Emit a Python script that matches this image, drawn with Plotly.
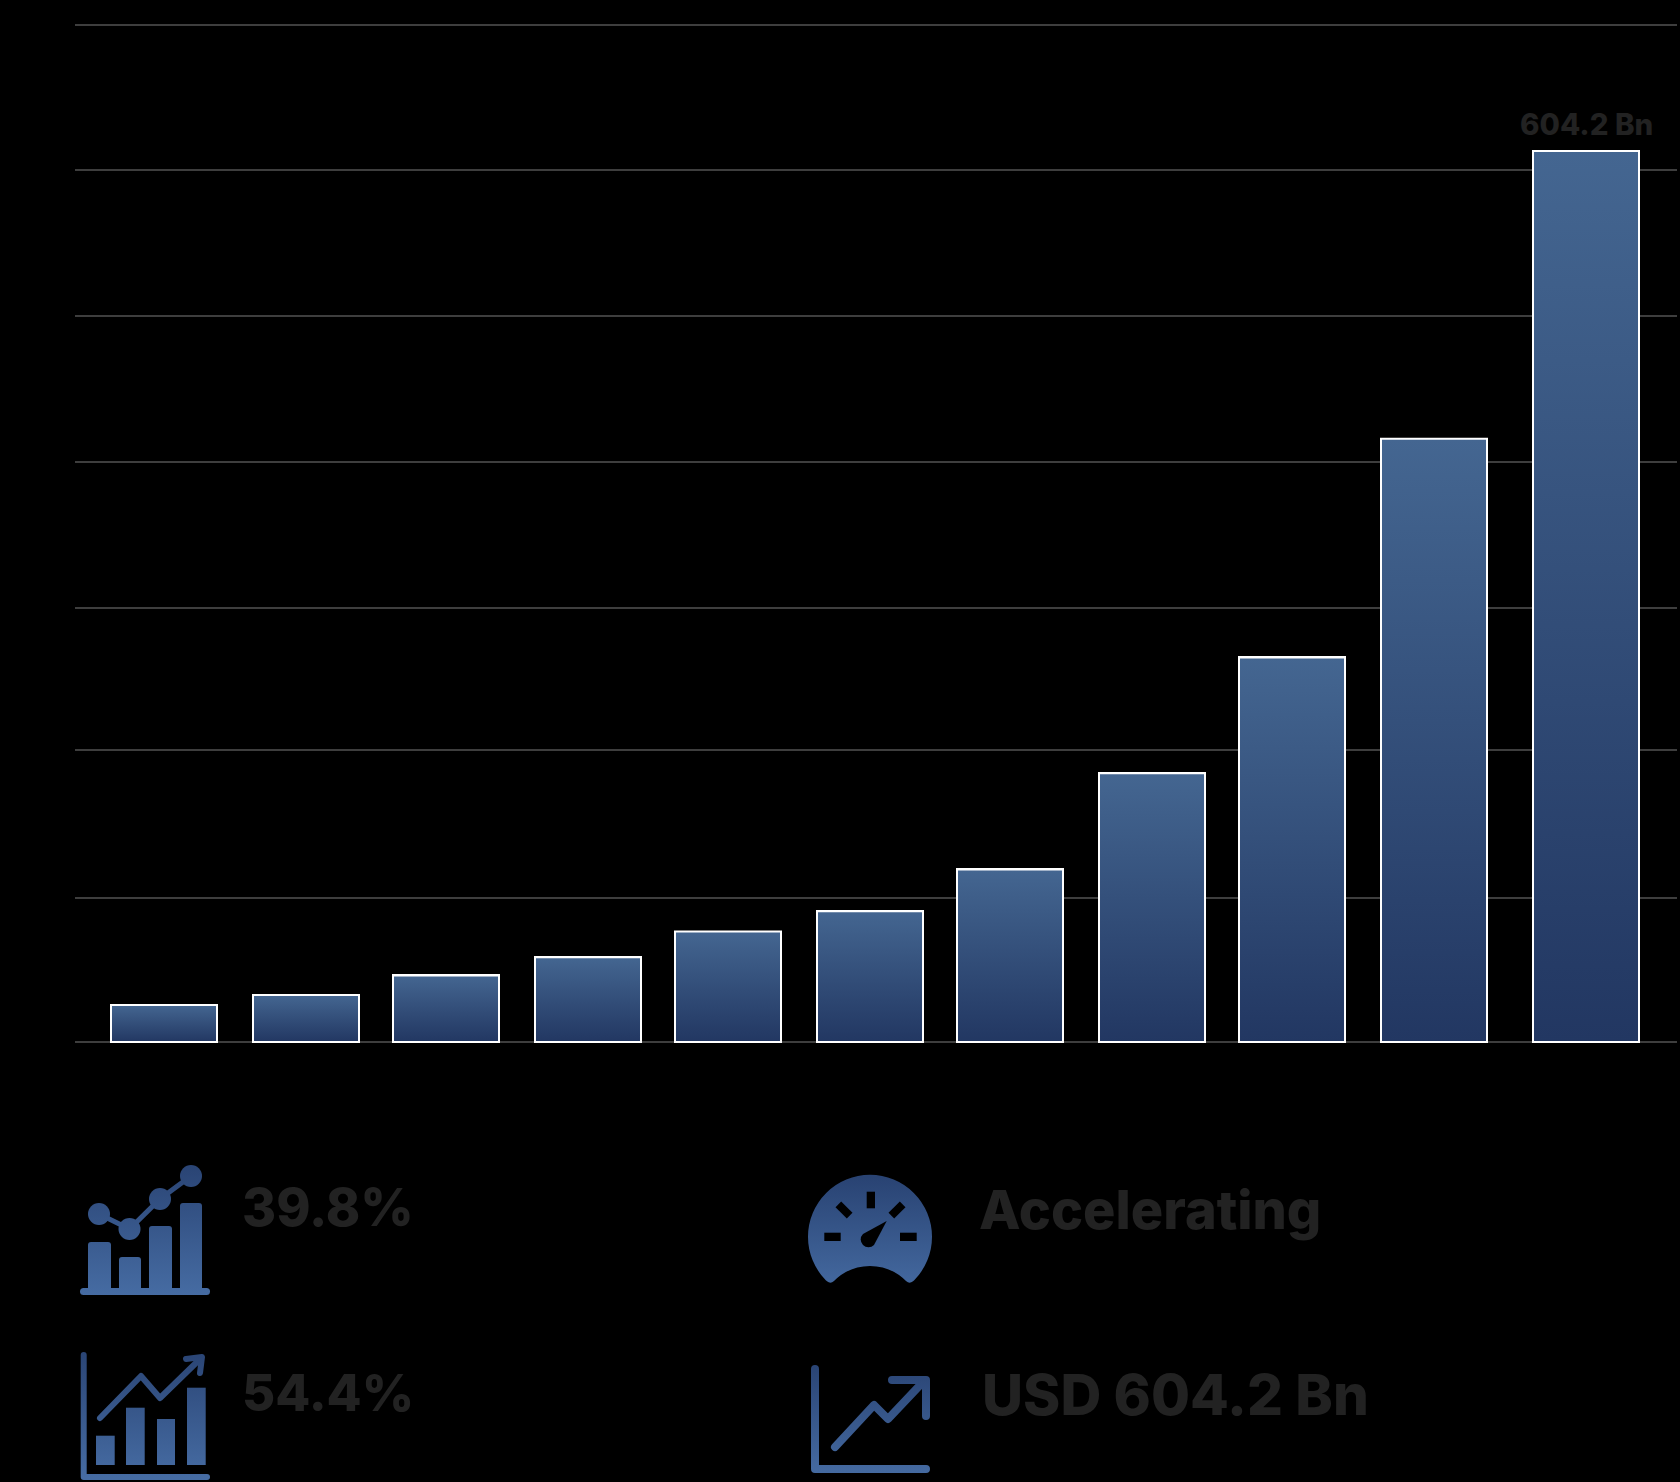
import base64
import plotly.graph_objects as go

# bar values (USD Bn)
bar_index = list(range(11))
values = [25.1, 31.8, 45.1, 57.4, 74.9, 88.7, 117, 182.3, 260.8, 409, 604.2]
value_label = "604.2 Bn"
grid_values = [0, 97.6, 198, 294.3, 393.3, 492.3, 591.3, 689.6]

stat_texts = ["39.8%", "Accelerating", "54.4%", "USD 604.2 Bn"]

# layout in page pixels
W, H = 1680, 1482
PLOT_L, PLOT_R, PLOT_T, PLOT_B = 75, 1677, 15, 1052
ZERO_PX = 1042
PX_PER_UNIT = 1.4747
STEP = 141
FIRST_CENTER = 164
BAR_W = 106 / STEP
# small sideways nudges, in px, the bars are not perfectly even in the source
BAR_NUDGE = [0, 1, 0, 1, 0, 1, 0, 1, 0, 1, 12]
FONT = "Inter"
TEXT_COLOR = "#222222"


def paper_x(px):
    return (px - PLOT_L) / (PLOT_R - PLOT_L)


def paper_y(py):
    return (PLOT_B - py) / (PLOT_B - PLOT_T)


def svg_uri(w, h, body):
    svg = (
        f'<svg xmlns="http://www.w3.org/2000/svg" width="{w}" height="{h}" viewBox="0 0 {w} {h}">'
        f'<defs><linearGradient id="g" gradientUnits="userSpaceOnUse" x1="0" y1="12" x2="0" y2="{h - 4}">'
        '<stop offset="0" stop-color="#294373"/><stop offset="1" stop-color="#466ca3"/>'
        f'</linearGradient></defs>{body}</svg>'
    )
    return "data:image/svg+xml;base64," + base64.b64encode(svg.encode()).decode()


icon_bars_dots = svg_uri(150, 150, """
<g fill="url(#g)">
<rect x="18" y="92" width="23" height="50" rx="3"/>
<rect x="49" y="107" width="22" height="35" rx="3"/>
<rect x="79" y="76" width="23" height="66" rx="3"/>
<rect x="110" y="53" width="22" height="89" rx="3"/>
<rect x="10" y="138" width="130" height="7" rx="3.5"/>
<circle cx="29" cy="64" r="11"/><circle cx="59.5" cy="79" r="11"/>
<circle cx="90" cy="49" r="11"/><circle cx="121" cy="26" r="11"/>
</g>
<polyline points="29,64 59.5,79 90,49 121,26" fill="none" stroke="url(#g)" stroke-width="5"/>
""")

icon_bars_arrow = svg_uri(150, 147, """
<path d="M13.7 20 V142 H137" fill="none" stroke="url(#g)" stroke-width="6" stroke-linecap="round" stroke-linejoin="round"/>
<g fill="url(#g)">
<rect x="26" y="100.7" width="18.7" height="29.3"/>
<rect x="56" y="72.7" width="18.7" height="57.3"/>
<rect x="87" y="84" width="18" height="46"/>
<rect x="117" y="52.7" width="18.7" height="77.3"/>
</g>
<polyline points="30,83 71,41 90,63 128,26" fill="none" stroke="url(#g)" stroke-width="6" stroke-linecap="round" stroke-linejoin="round"/>
<path d="M116 24 L132 22 L130 38" fill="none" stroke="url(#g)" stroke-width="6" stroke-linecap="round" stroke-linejoin="round"/>
""")

icon_gauge = svg_uri(150, 135, """
<path fill="url(#g)" d="M31 115.5 A62 62 0 1 1 119 115.5 Q115 119.5 111 116 Q96 101 75 101 Q54 101 39 116 Q35 119.5 31 115.5 Z"/>
<g fill="#000">
<rect x="71.7" y="26.7" width="8.3" height="16.6"/>
<rect x="29.3" y="67.7" width="16.4" height="8.3"/>
<rect x="105" y="67.7" width="16.7" height="8.3"/>
<rect x="41" y="41" width="16" height="8" transform="rotate(45 49 45)"/>
<rect x="94" y="41" width="16" height="8" transform="rotate(-45 102 45)"/>
<path d="M91.7 56 L79 80 A7 7 0 1 1 68 69 Z"/>
</g>
""")

icon_line_arrow = svg_uri(150, 132, """
<g fill="none" stroke="url(#g)" stroke-width="8" stroke-linecap="round" stroke-linejoin="round">
<path d="M20 19 V119 H131"/>
<polyline points="40,97 79,55 93,69 128,32"/>
<polyline points="97,30 131,30 131,66"/>
</g>
""")

icons = [
    (icon_bars_dots, 70, 1150, 150, 150),
    (icon_bars_arrow, 70, 1335, 150, 147),
    (icon_gauge, 795, 1165, 150, 135),
    (icon_line_arrow, 795, 1350, 150, 132),
]

centers = [i + n / STEP for i, n in zip(bar_index, BAR_NUDGE)]
bar_offsets = [c - i - BAR_W / 2 for c, i in zip(centers, bar_index)]

fig = go.Figure()
fig.add_trace(go.Bar(
    x=bar_index, y=values, width=BAR_W, offset=bar_offsets,
    marker=dict(color="#33507d", line=dict(color="white", width=2)),
    hoverinfo="skip", showlegend=False,
))

# bars can't take a gradient, so same rectangles again as filled scatter on top
for c, v in zip(centers, values):
    l, r = c - BAR_W / 2, c + BAR_W / 2
    fig.add_trace(go.Scatter(
        x=[l, l, r, r, l], y=[0, v, v, 0, 0], mode="lines", fill="toself",
        line=dict(color="white", width=2),
        fillgradient=dict(type="vertical", colorscale=[[0, "#223762"], [1, "#446691"]]),
        hoverinfo="skip", showlegend=False,
    ))

fig.add_annotation(
    x=centers[-1], y=values[-1], text=value_label, showarrow=False, yanchor="bottom", yshift=7,
    font=dict(family=FONT, size=29.5, color=TEXT_COLOR, weight=800),
)

stat_pos = [(243, 1207), (980, 1209), (243, 1392), (983, 1394)]
stat_sizes = [52, 54, 51, 56.5]
for txt, (px, py), size in zip(stat_texts, stat_pos, stat_sizes):
    fig.add_annotation(
        xref="paper", yref="paper", x=paper_x(px), y=paper_y(py), text=txt, showarrow=False,
        xanchor="left", yanchor="middle", xshift=-3,
        font=dict(family=FONT, size=size, color=TEXT_COLOR, weight=800),
    )

for src, px, py, w, h in icons:
    fig.add_layout_image(
        source=src, xref="paper", yref="paper", x=paper_x(px), y=paper_y(py),
        sizex=w / (PLOT_R - PLOT_L), sizey=h / (PLOT_B - PLOT_T),
        xanchor="left", yanchor="top", sizing="stretch", layer="above",
    )

fig.update_layout(
    width=W, height=H, paper_bgcolor="black", plot_bgcolor="black",
    margin=dict(l=PLOT_L, r=W - PLOT_R, t=PLOT_T, b=H - PLOT_B, pad=0),
    showlegend=False, bargap=0,
)
fig.update_xaxes(
    range=[(PLOT_L - FIRST_CENTER) / STEP, (PLOT_R - FIRST_CENTER) / STEP],
    showgrid=False, zeroline=False, showticklabels=False, ticks="", showline=False,
)
fig.update_yaxes(
    range=[(ZERO_PX - PLOT_B) / PX_PER_UNIT, (ZERO_PX - PLOT_T) / PX_PER_UNIT],
    tickvals=grid_values, showticklabels=False, ticks="",
    showgrid=True, gridcolor="#3e3e3e", gridwidth=2, zeroline=False, showline=False,
)

fig.write_html("out.html", config={"displayModeBar": False},
               post_script="document.body.style.margin='0';document.body.style.background='black';")
